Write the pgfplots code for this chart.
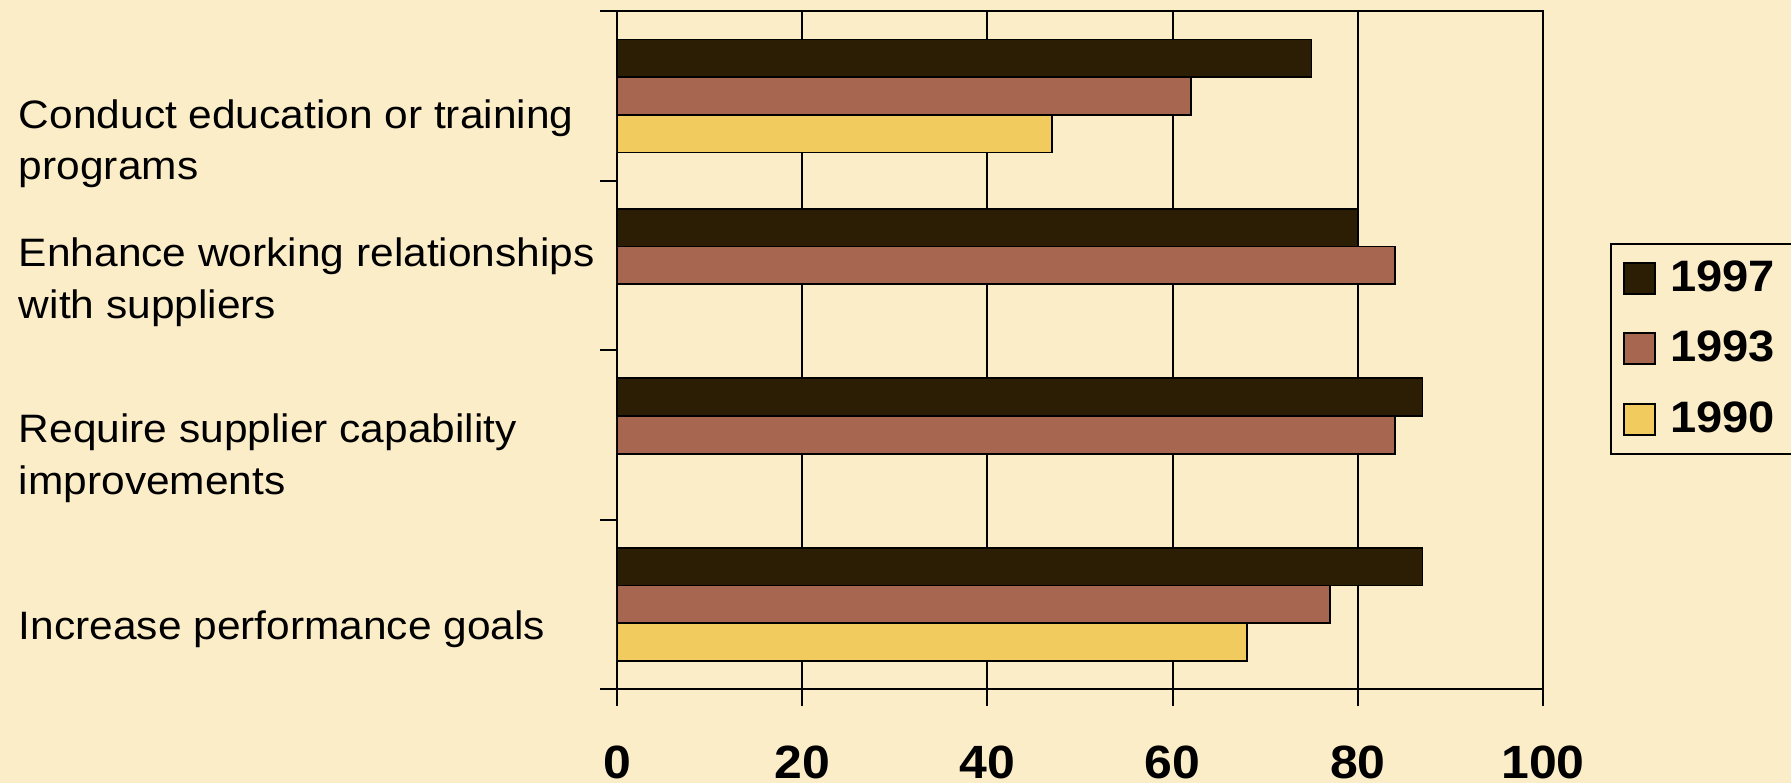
\documentclass[border=0pt]{standalone}
\usepackage{fontspec}
\setmainfont{Liberation Sans}[FakeStretch=1.07]
\usepackage{pgfplots}
\pgfplotsset{compat=1.18}
\usetikzlibrary{backgrounds}
\definecolor{bgc}{HTML}{FCEDC9}
\definecolor{c97}{HTML}{2B1E04}
\definecolor{c93}{HTML}{A66650}
\definecolor{c90}{HTML}{F1CB5E}
\begin{document}
\begin{tikzpicture}
\begin{axis}[
  name=ax,
  scale only axis, width=277.8pt, height=203.3pt,
  xbar, bar width=0.2225,
  xmin=0, xmax=100, ymin=-0.5, ymax=3.5,
  xtick={0,20,40,60,80,100}, xtick pos=lower, tick align=outside,
  major tick length=5pt,
  xmajorgrids, grid style={black, line width=0.6pt},
  axis line style={black, line width=0.6pt},
  every tick/.style={black, line width=0.6pt},
  /pgf/number format/assume math mode=true,
  xticklabel style={font=\fontsize{14}{16}\selectfont\bfseries, inner sep=0pt, anchor=north, yshift=-11.8pt},
  ytick={-0.5,0.5,1.5,2.5,3.5}, yticklabels={}, ytick pos=left,
  extra y ticks={-0.145,0.864,1.900,2.718},
  extra y tick labels={Increase performance goals, Require supplier capability\\improvements, Enhance working relationships\\with suppliers, Conduct education or training\\programs},
  extra y tick style={major tick length=0pt},
  yticklabel style={anchor=west, align=left, inner sep=0pt, xshift=-179.6pt, font=\fontsize{11.9}{15.5}\selectfont},
  legend style={at={(1.0724,0.502)}, anchor=west, draw=black, line width=0.6pt, fill=none,
    font=\fontsize{13.2}{16}\selectfont\bfseries, inner xsep=3.6pt, inner ysep=3.0pt, row sep=6.4pt,
    cells={anchor=west}},
  legend image code/.code={\draw[#1, line width=0.5pt] (0pt,-4.65pt) rectangle (9.3pt,4.65pt); \path (11.6pt,0pt);},
]
\addplot[fill=c97, draw=black, line width=0.5pt, bar shift=0.2225] coordinates {(87,0) (87,1) (80,2) (75,3)};
\addlegendentry{1997}
\addplot[fill=c93, draw=black, line width=0.5pt, bar shift=0] coordinates {(77,0) (84,1) (84,2) (62,3)};
\addlegendentry{1993}
\addplot[fill=c90, draw=black, line width=0.5pt, bar shift=-0.2225] coordinates {(68,0) (47,3)};
\addlegendentry{1990}
\end{axis}
\begin{scope}[on background layer]
\fill[bgc] ([xshift=-185.1pt,yshift=3.4pt]ax.north west) rectangle ([xshift=74.4pt,yshift=-28.2pt]ax.south east);
\end{scope}
\pgfresetboundingbox
\path[use as bounding box] ([xshift=-185.1pt,yshift=3.4pt]ax.north west) rectangle ([xshift=74.4pt,yshift=-28.2pt]ax.south east);
\end{tikzpicture}
\end{document}
